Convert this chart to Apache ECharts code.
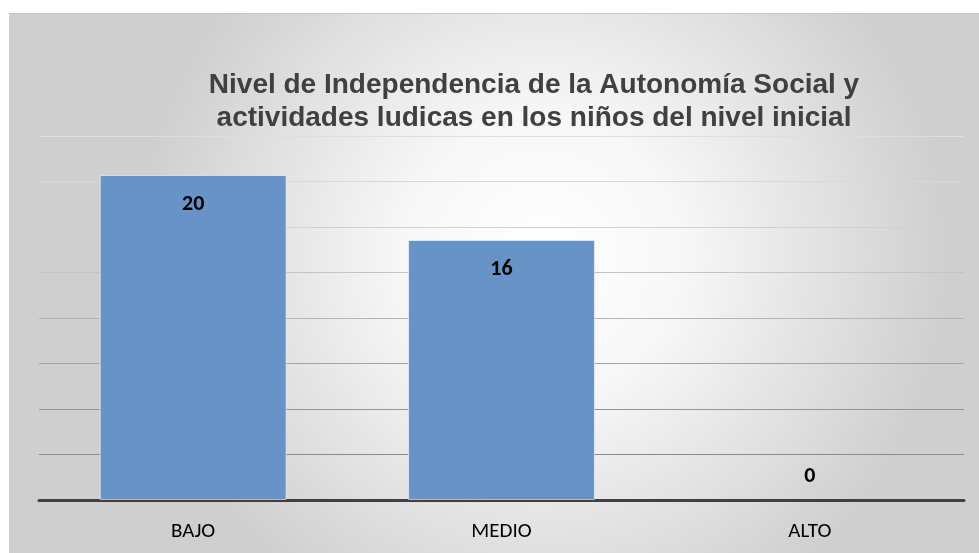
<!DOCTYPE html>
<html>
<head>
<meta charset="utf-8">
<script src="https://cdn.jsdelivr.net/npm/echarts@6/dist/echarts.min.js"></script>
<style>
  html, body { margin: 0; padding: 0; background: #fff; }
  #chart {
    position: absolute;
    left: 9px;
    top: 13px;
    width: 970px;
    height: 540px;
    border-top: 1px solid #c8c8c8;
    box-sizing: border-box;
  }
</style>
</head>
<body>
<div id="chart"></div>
<script>
// Nivel de independencia - data
const categories = ['BAJO', 'MEDIO', 'ALTO']
const values = [20, 16, 0]

// hidden value axis (no tick labels in the original)
const axisMax = 22.4
const axisStep = 2.8

// gridlines fade from dark (bottom) to light (top)
const gridColors = ['#7f7f7f', '#8a8a8a', '#959595', '#a3a3a3', '#b4b4b4', '#c4c4c4', '#d0d0d0', '#d8d8d8', '#dedede']

const LABEL_FONT = "Carlito, Lato, 'Open Sans', sans-serif"

const chart = echarts.init(document.getElementById('chart'))

chart.setOption({
  backgroundColor: {
    type: 'radial', x: 0.55, y: 0.45, r: 0.75,
    colorStops: [
      { offset: 0, color: '#ffffff' },
      { offset: 0.35, color: '#f7f7f7' },
      { offset: 1, color: '#cfcfcf' }
    ]
  },
  animation: false,
  title: {
    text: 'Nivel de Independencia de la Autonomía Social y\nactividades ludicas en los niños del nivel inicial',
    // title sits a bit right of centre in the original
    left: 520,
    textAlign: 'center',
    top: 50,
    textStyle: {
      fontFamily: "'Liberation Sans', Arial, sans-serif",
      fontWeight: 'bold',
      fontSize: 28,
      lineHeight: 33,
      color: '#404040'
    }
  },
  grid: { left: 30, right: 15, top: 122, bottom: 53 },
  xAxis: {
    type: 'category',
    data: categories,
    axisLine: { lineStyle: { color: '#404040', width: 3 } },
    axisTick: { show: false },
    axisLabel: { color: '#000', fontFamily: LABEL_FONT, fontSize: 21, margin: 21 }
  },
  yAxis: {
    type: 'value',
    min: 0,
    max: axisMax,
    interval: axisStep,
    axisLabel: { show: false },
    axisLine: { show: false },
    axisTick: { show: false },
    splitLine: { lineStyle: { color: gridColors, width: 1 } }
  },
  series: [{
    type: 'bar',
    barWidth: '60.6%',
    data: values.map(v => v === 0
      ? { value: v, itemStyle: { borderWidth: 0 }, label: { position: 'top', distance: 13 } }
      : { value: v, label: { position: 'insideTop', distance: 18 } }),
    itemStyle: { color: '#6793c6', borderColor: 'rgba(255,255,255,0.55)', borderWidth: 1 },
    label: {
      show: true,
      color: '#000',
      fontFamily: LABEL_FONT,
      fontWeight: 'bold',
      fontSize: 22
    }
  }]
})
</script>
</body>
</html>
